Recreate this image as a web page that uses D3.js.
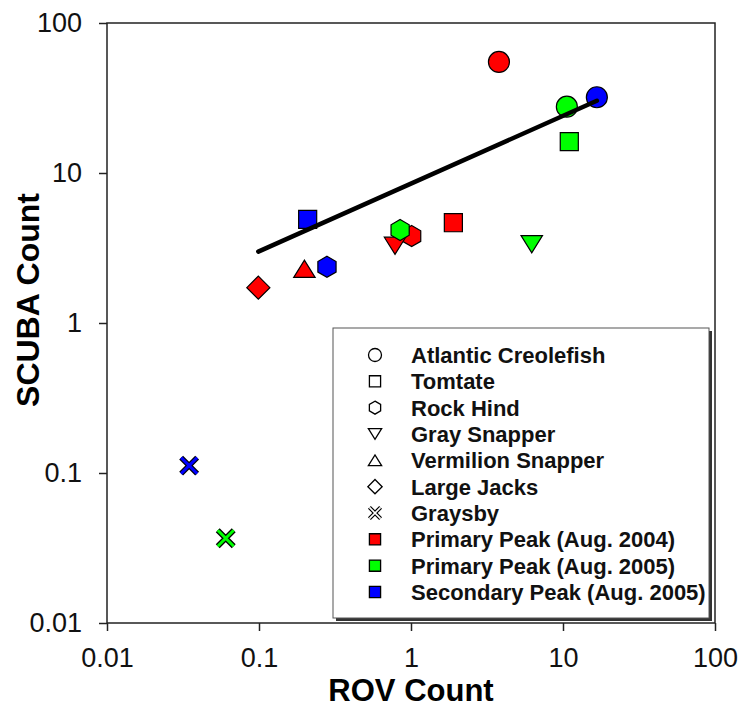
<!DOCTYPE html>
<html>
<head>
<meta charset="utf-8">
<script src="https://cdn.jsdelivr.net/npm/d3@7"></script>
<style>
  body { margin: 0; background: #fff; }
  text { font-family: "Liberation Sans", Arial, sans-serif; }
</style>
</head>
<body>
<svg id="chart"></svg>
<script>
// species (marker shape) and sampling period (marker colour)
var species = ["Atlantic Creolefish", "Tomtate", "Rock Hind", "Gray Snapper", "Vermilion Snapper", "Large Jacks", "Graysby"];
var periods = ["Primary Peak (Aug. 2004)", "Primary Peak (Aug. 2005)", "Secondary Peak (Aug. 2005)"];

// ROV and SCUBA counts, one entry per species (null = not plotted)
var rov2004   = [3.79, 1.90, 1.01, 0.785, 0.199, 0.099, null];
var scuba2004 = [55,   4.66, 3.80, 3.27,  2.30,  1.72,  null];
var rov2005   = [10.6, 11.0, 0.848, 6.23, null, null, 0.0604];
var scuba2005 = [27.7, 16.2, 4.17,  3.35, null, null, 0.0367];
var rovSec    = [16.7, 0.209, 0.28, null, null, null, 0.0347];
var scubaSec  = [32,   4.91,  2.37, null, null, null, 0.112];

// fitted line end points
var fitRov = [0.099, 16.7];
var fitScuba = [2.99, 30.3];

var ticks = [0.01, 0.1, 1, 10, 100];

var width = 743, height = 708;
var margin = { top: 23, right: 28, bottom: 85, left: 107 };

var shapeOf = ["circle", "square", "hexagon", "down", "up", "diamond", "cross"];
var colors = ["#ff0000", "#00ff00", "#0000ff"];

var svg = d3.select("#chart").attr("width", width).attr("height", height);

var x = d3.scaleLog().domain([0.01, 100]).range([margin.left, width - margin.right]);
var y = d3.scaleLog().domain([0.01, 100]).range([height - margin.bottom, margin.top]);

var data = [];
[[rov2004, scuba2004], [rov2005, scuba2005], [rovSec, scubaSec]].forEach(function(s, p){
  s[0].forEach(function(v, i){
    if (v != null) data.push({ rov: v, scuba: s[1][i], shape: shapeOf[i], period: p });
  });
});

function markerPath(shape, r){
  var p = d3.path();
  if (shape === "circle"){
    p.arc(0, 0, r, 0, 2 * Math.PI);
  } else if (shape === "square"){
    var h = r * 0.86;
    p.rect(-h, -h, 2 * h, 2 * h);
  } else if (shape === "hexagon"){
    for (var k = 0; k < 6; k++){
      var a = Math.PI / 3 * k - Math.PI / 2;
      if (k === 0) p.moveTo(r * Math.cos(a), r * Math.sin(a));
      else p.lineTo(r * Math.cos(a), r * Math.sin(a));
    }
    p.closePath();
  } else if (shape === "down"){
    var hw = r * 1.02, hh = r * 0.82;
    p.moveTo(-hw, -hh); p.lineTo(hw, -hh); p.lineTo(0, hh); p.closePath();
  } else if (shape === "up"){
    var hw2 = r * 1.02, hh2 = r * 0.82;
    p.moveTo(-hw2, hh2); p.lineTo(hw2, hh2); p.lineTo(0, -hh2); p.closePath();
  } else if (shape === "diamond"){
    var d = r * 1.1;
    p.moveTo(0, -d); p.lineTo(d, 0); p.lineTo(0, d); p.lineTo(-d, 0); p.closePath();
  } else if (shape === "cross"){
    var c = r * 0.8;
    p.moveTo(-c, -c); p.lineTo(c, c); p.moveTo(c, -c); p.lineTo(-c, c);
  }
  return p.toString();
}

// frame
var plot = svg.append("g");
plot.append("rect")
  .attr("x", margin.left).attr("y", margin.top)
  .attr("width", x(100) - x(0.01)).attr("height", y(0.01) - y(100))
  .attr("fill", "none").attr("stroke", "#222").attr("stroke-width", 1.5);

var xAxis = d3.axisBottom(x).tickValues(ticks).tickFormat(function(d){ return d; })
  .tickSize(8).tickSizeOuter(0).tickPadding(17);
var yAxis = d3.axisLeft(y).tickValues(ticks).tickFormat(function(d){ return d; })
  .tickSize(8).tickSizeOuter(0).tickPadding(17);

var gx = svg.append("g").attr("transform", "translate(0," + y(0.01) + ")").call(xAxis);
var gy = svg.append("g").attr("transform", "translate(" + margin.left + ",0)").call(yAxis);
[gx, gy].forEach(function(g){
  g.select(".domain").remove();
  g.selectAll(".tick line").attr("stroke", "#222").attr("stroke-width", 1.5);
  g.selectAll(".tick text").attr("fill", "#111").style("font-size", "27px")
    .style("font-family", "'Liberation Sans', Arial, sans-serif");
});

svg.append("text")
  .attr("x", (x(0.01) + x(100)) / 2).attr("y", 701)
  .attr("text-anchor", "middle").attr("font-weight", "bold").attr("font-size", 31)
  .text("ROV Count");

svg.append("text")
  .attr("transform", "translate(39," + 300 + ") rotate(-90)")
  .attr("text-anchor", "middle").attr("font-weight", "bold").attr("font-size", 32)
  .text("SCUBA Count");

// legend
var lg = svg.append("g");
var lx = 333, ly = 328, lw = 376, lh = 290;
lg.append("rect").attr("x", lx + 3).attr("y", ly + 3).attr("width", lw).attr("height", lh)
  .attr("fill", "#333");
lg.append("rect").attr("x", lx).attr("y", ly).attr("width", lw).attr("height", lh)
  .attr("fill", "#fff").attr("stroke", "#555").attr("stroke-width", 1);

var legendItems = species.map(function(s, i){ return { label: s, shape: shapeOf[i], fill: "#fff" }; })
  .concat(periods.map(function(p, i){ return { label: p, shape: "square", fill: colors[i] }; }));

var rowY = d3.scalePoint().domain(d3.range(legendItems.length)).range([355, 592]);

var rows = lg.selectAll(".row").data(legendItems).enter().append("g")
  .attr("transform", function(d, i){ return "translate(375," + rowY(i) + ")"; });

rows.each(function(d){
  var g = d3.select(this);
  if (d.shape === "cross"){
    g.append("path").attr("d", markerPath("cross", 7)).attr("stroke", "#000").attr("stroke-width", 4).attr("fill", "none");
    g.append("path").attr("d", markerPath("cross", 7)).attr("stroke", "#fff").attr("stroke-width", 1.6).attr("fill", "none");
  } else {
    g.append("path").attr("d", markerPath(d.shape, 6.5))
      .attr("fill", d.fill).attr("stroke", "#000").attr("stroke-width", 1.3);
  }
});

rows.append("text").attr("x", 36).attr("dy", "0.36em")
  .attr("font-weight", "bold").attr("font-size", 22).attr("fill", "#111")
  .text(function(d){ return d.label; });

// data points
var pts = svg.append("g").selectAll(".pt").data(data).enter().append("g")
  .attr("transform", function(d){ return "translate(" + x(d.rov) + "," + y(d.scuba) + ")"; });

pts.each(function(d){
  var g = d3.select(this);
  if (d.shape === "cross"){
    g.append("path").attr("d", markerPath("cross", 10)).attr("stroke", "#000").attr("stroke-width", 5.5).attr("fill", "none");
    g.append("path").attr("d", markerPath("cross", 10)).attr("stroke", colors[d.period]).attr("stroke-width", 3).attr("fill", "none");
  } else {
    g.append("path").attr("d", markerPath(d.shape, 10.5))
      .attr("fill", colors[d.period]).attr("stroke", "#000").attr("stroke-width", 1.2);
  }
});

// fitted line
svg.append("path")
  .datum(d3.zip(fitRov, fitScuba))
  .attr("d", d3.line().x(function(d){ return x(d[0]); }).y(function(d){ return y(d[1]); }))
  .attr("stroke", "#000").attr("stroke-width", 4.5).attr("stroke-linecap", "round").attr("fill", "none");
</script>
</body>
</html>
